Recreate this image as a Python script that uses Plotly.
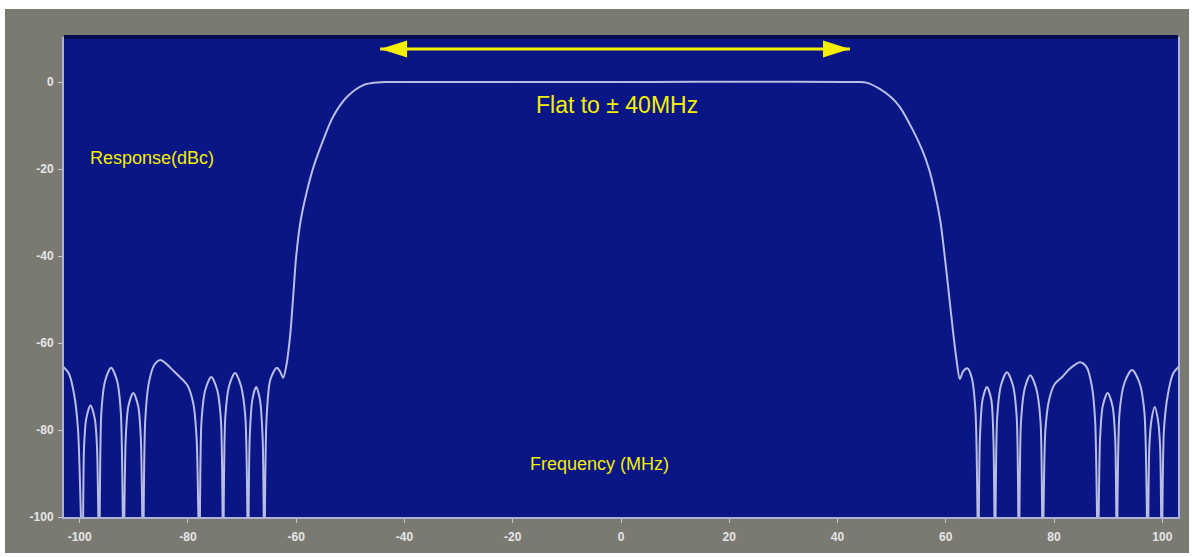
import plotly.graph_objects as go

# Filter frequency response: frequency offset (MHz) vs. response (dBc)
freq_mhz = [
    -103.0, -102.0, -101.0, -100.3, -99.5,
    -99.2, -98.8, -98.0, -97.2, -96.8, -96.4,
    -96.0, -95.3, -94.2, -93.1, -92.4, -91.9,
    -91.5, -91.0, -90.1, -89.2, -88.7, -88.3,
    -87.9, -87.2, -86.2, -85.1, -84.0, -83.0, -81.5, -80.1, -79.0, -78.4, -77.9,
    -77.5, -76.8, -75.7, -74.6, -73.9, -73.5,
    -73.1, -72.4, -71.3, -70.2, -69.4, -68.9,
    -68.6, -68.1, -67.4, -66.7, -66.2, -65.9,
    -65.5, -64.8, -63.6, -63.0, -62.4, -61.8, -61.1,
    -60.6, -60.0, -59.2, -58.0, -56.8, -55.0, -53.2, -50.6, -47.6, -45.0, -43.0,
    0.0,
    43.5, 45.5, 47.8, 50.0, 51.5, 53.9, 55.6, 56.9, 58.0, 59.0, 59.8,
    60.6, 61.4, 62.0, 62.6, 63.2, 64.0, 64.8, 65.5, 66.0,
    66.3, 66.8, 67.6, 68.4, 68.8, 69.1,
    69.5, 70.2, 71.3, 72.4, 73.1, 73.5,
    73.9, 74.6, 75.6, 76.7, 77.5, 77.9,
    78.4, 79.1, 80.1, 81.5, 83.0, 84.8, 86.0, 87.0, 87.6, 88.1,
    88.5, 89.0, 89.9, 90.8, 91.3, 91.6,
    92.1, 93.0, 94.4, 95.8, 96.7, 97.3,
    97.6, 98.0, 98.6, 99.2, 99.6, 99.9,
    100.3, 101.0, 102.0, 103.0,
]

response_dbc = [
    -65.5, -67.0, -72.0, -80.0, -110,
    -84, -77.5, -74.3, -77.5, -84, -110,
    -76, -68.7, -65.7, -68.7, -76, -110,
    -82, -74.5, -71.5, -74.5, -82, -110,
    -78, -69, -65, -63.9, -64.8, -66, -67.8, -69.7, -74, -82, -110,
    -78, -70.8, -67.8, -70.8, -78, -110,
    -77, -69.9, -66.9, -69.9, -77, -110,
    -82, -73, -70.1, -73, -82, -110,
    -78, -68.5, -65.7, -66.5, -68.0, -65.0, -58.0,
    -50, -40, -32, -25, -19.5, -13.3, -8.0, -3.4, -0.7, -0.1, 0,
    0,
    0, -0.2, -1.6, -3.6, -5.7, -11, -15.5, -20, -25.5, -32, -40,
    -49, -58, -64, -68.3, -66.5, -65.8, -68, -76, -110,
    -82, -73, -70.1, -73, -82, -110,
    -77, -69.7, -66.7, -69.7, -77, -110,
    -78, -70.4, -67.4, -70.4, -78, -110,
    -80, -73, -69.5, -67.8, -65.8, -64.4, -65.5, -70, -78, -110,
    -82, -74.5, -71.5, -74.5, -82, -110,
    -76, -69.2, -66.2, -69.2, -76, -110,
    -84, -77.7, -74.7, -77.7, -84, -110,
    -80, -72, -67, -65.5,
]

x_tick_vals = [-100, -80, -60, -40, -20, 0, 20, 40, 60, 80, 100]
x_tick_text = ["-100", "-80", "-60", "-40", "-20", "0", "20", "40", "60", "80", "100"]
y_tick_vals = [0, -20, -40, -60, -80, -100]
y_tick_text = ["0", "-20", "-40", "-60", "-80", "-100"]

# passband marker: arrow end points (MHz) and its height (dB)
flat_arrow_from = -44.5
flat_arrow_to = 42.3
flat_arrow_level = 7.6

YELLOW = "#f4ef00"
PLOT_BLUE = "#0a1586"
FRAME_GRAY = "#7a7a73"
TRACE_COLOR = "#b9bde2"
TEXT_FONT = "Liberation Sans Narrow, Arial Narrow, Liberation Sans, Arial, sans-serif"

fig = go.Figure()
fig.add_trace(go.Scatter(
    x=freq_mhz, y=response_dbc, mode="lines",
    line=dict(color=TRACE_COLOR, width=2, shape="spline", smoothing=0.8),
    hoverinfo="skip", showlegend=False,
))

# double-headed yellow arrow spanning the flat region
fig.add_shape(type="line", xref="x", yref="y",
              x0=flat_arrow_from, x1=flat_arrow_to,
              y0=flat_arrow_level, y1=flat_arrow_level,
              line=dict(color=YELLOW, width=3))
fig.add_shape(type="path", xref="x", yref="y",
              xsizemode="pixel", ysizemode="pixel",
              xanchor=flat_arrow_from, yanchor=flat_arrow_level,
              path="M0,0 L27,8.5 L27,-8.5 Z",
              fillcolor=YELLOW, line=dict(width=0))
fig.add_shape(type="path", xref="x", yref="y",
              xsizemode="pixel", ysizemode="pixel",
              xanchor=flat_arrow_to, yanchor=flat_arrow_level,
              path="M0,0 L-27,8.5 L-27,-8.5 Z",
              fillcolor=YELLOW, line=dict(width=0))

# dark rim along the top of the plotting area
fig.add_shape(type="line", xref="paper", yref="paper", x0=0, x1=1, y0=1, y1=1,
              line=dict(color="#070d55", width=4))

# thin white page border around the gray frame
white_strips = [
    (-0.1, 1.1, 1.0583, 1.2),
    (-0.1, 1.1, -0.2, -0.075),
    (-0.1, -0.053, -0.2, 1.2),
    (1.0099, 1.1, -0.2, 1.2),
]
for x0, x1, y0, y1 in white_strips:
    fig.add_shape(type="rect", xref="paper", yref="paper",
                  x0=x0, x1=x1, y0=y0, y1=y1,
                  fillcolor="white", line=dict(width=0), layer="below")

fig.add_annotation(x=-0.7, y=-5.3, xref="x", yref="y", text="Flat to \u00b1 40MHz",
                   showarrow=False, font=dict(family=TEXT_FONT, size=23, color=YELLOW))
fig.add_annotation(x=-86.6, y=-17.5, xref="x", yref="y", text="Response(dBc)",
                   showarrow=False, font=dict(family=TEXT_FONT, size=18, color=YELLOW))
fig.add_annotation(x=-3.9, y=-87.8, xref="x", yref="y", text="Frequency (MHz)",
                   showarrow=False, font=dict(family=TEXT_FONT, size=18, color=YELLOW))

tick_font = dict(family="Liberation Sans, Arial, sans-serif", size=12,
                 color="#e6e6e6", weight="bold")

fig.update_xaxes(
    range=[-102.9, 102.9], tickvals=x_tick_vals, ticktext=x_tick_text,
    showgrid=True, gridcolor="#08137b", gridwidth=1, zeroline=False,
    showline=True, linecolor="#aeb2d6", linewidth=2,
    ticks="outside", ticklen=4, tickcolor="#c8c8d8", tickwidth=1,
    tickfont=tick_font, ticklabelstandoff=4,
)
fig.update_yaxes(
    range=[-100, 10.35], tickvals=y_tick_vals, ticktext=y_tick_text,
    showgrid=True, gridcolor="#08137b", gridwidth=1, zeroline=False,
    showline=True, mirror=True, linecolor="#aeb2d6", linewidth=2,
    ticks="outside", ticklen=4, tickcolor="#c8c8d8", tickwidth=1,
    tickfont=tick_font, ticklabelstandoff=2,
)

fig.update_layout(
    width=1192, height=557,
    margin=dict(l=64, r=14, t=37, b=40),
    paper_bgcolor=FRAME_GRAY, plot_bgcolor=PLOT_BLUE,
    showlegend=False,
)

fig.write_html("out.html")
